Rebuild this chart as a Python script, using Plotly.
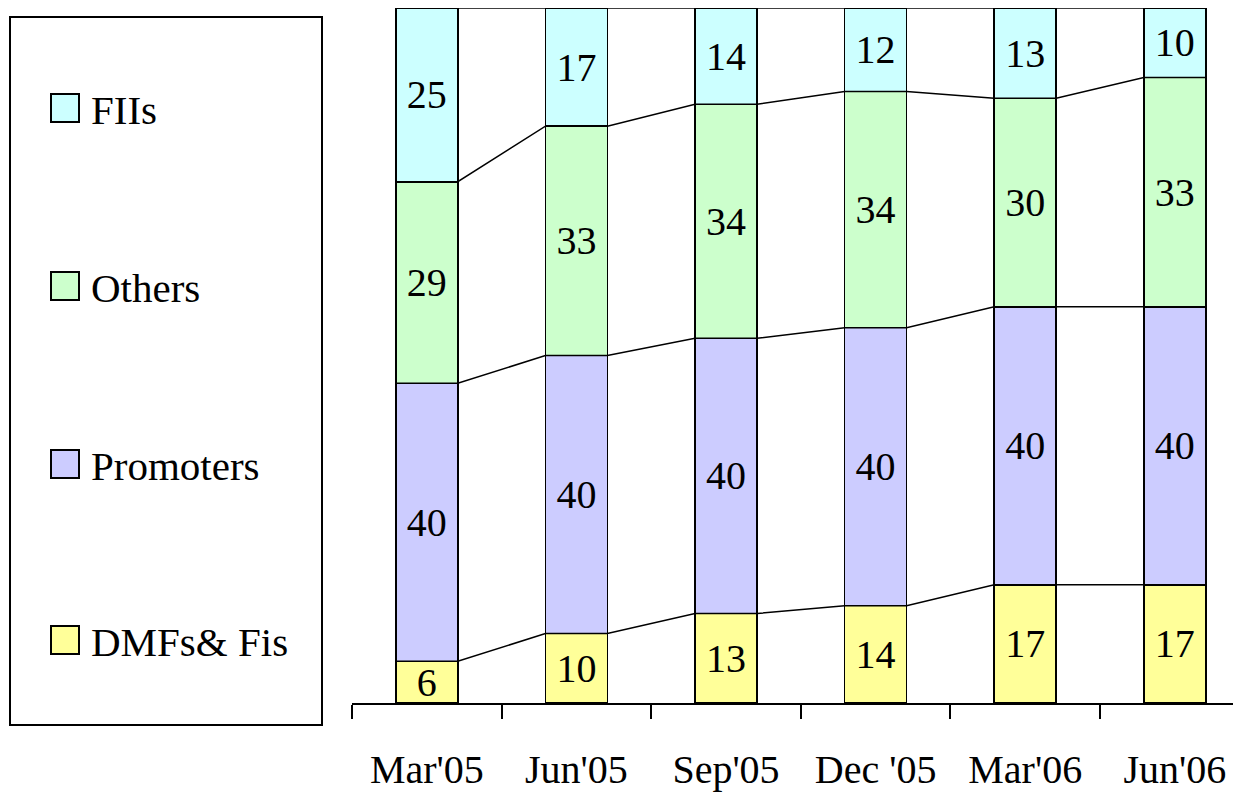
import plotly.graph_objects as go

quarters = ["Mar'05", "Jun'05", "Sep'05", "Dec '05", "Mar'06", "Jun'06"]
series_names = ["DMFs& Fis", "Promoters", "Others", "FIIs"]
dmfs = [6, 10, 13, 14, 17, 17]
promoters = [40, 40, 40, 40, 40, 40]
others = [29, 33, 34, 34, 30, 33]
fiis = [25, 17, 14, 12, 13, 10]

colors = ["#FFFF99", "#CCCCFF", "#CCFFCC", "#CCFFFF"]
FONT = "Liberation Serif, Times New Roman, serif"
OFF = 8  # default body margin of the html page
W, H = 1241 - OFF, 793 - OFF
L, T, B = 352 - OFF, 0, 90
PX_PER_CAT = 149.6
BAR_W = 0.414

values = [dmfs, promoters, others, fiis]
xs = list(range(len(quarters)))

fig = go.Figure()
for name, vals, col in zip(series_names, values, colors):
    fig.add_trace(go.Bar(
        x=xs, y=vals, name=name, width=BAR_W,
        marker=dict(color=col, line=dict(color="black", width=1.5)),
        text=[str(v) for v in vals], textposition="inside",
        insidetextanchor="middle", textangle=0, constraintext="none",
        textfont=dict(family=FONT, size=40, color="black"),
        showlegend=False, hoverinfo="skip",
    ))

# series lines joining the stack boundaries of neighbouring bars
totals = [sum(v[i] for v in values) for i in xs]
cum = [0] * len(xs)
for vals in values:
    cum = [c + v for c, v in zip(cum, vals)]
    pct = [100.0 * c / t for c, t in zip(cum, totals)]
    lx, ly = [], []
    for i in xs:
        lx += [i - BAR_W / 2, i + BAR_W / 2]
        ly += [pct[i], pct[i]]
    fig.add_trace(go.Scatter(
        x=lx, y=ly, mode="lines", xaxis="x2",
        line=dict(color="black", width=1.5),
        showlegend=False, hoverinfo="skip",
    ))

plot_w = W - L
plot_h = H - T - B
x_range = [-0.5, -0.5 + plot_w / PX_PER_CAT]


# page pixel -> paper coords
def px(x):
    return (x - OFF - L) / plot_w


def py(y):
    return (H - B - (y - OFF)) / plot_h


# hand-drawn legend (larger swatches than plotly's legend allows)
shapes = [dict(type="rect", xref="paper", yref="paper",
               x0=px(10), x1=px(322), y0=py(725), y1=py(17),
               line=dict(color="black", width=2), fillcolor="white", layer="below")]
annotations = []
legend_y = [640, 464, 286, 108]
for name, col, ly in zip(series_names, colors, legend_y):
    shapes.append(dict(type="rect", xref="paper", yref="paper",
                       x0=px(51), x1=px(79), y0=py(ly + 14), y1=py(ly - 14),
                       line=dict(color="black", width=2), fillcolor=col))
    annotations.append(dict(xref="paper", yref="paper", x=px(89), y=py(ly + 2),
                            text=name, showarrow=False, xanchor="left", yanchor="middle",
                            font=dict(family=FONT, size=41, color="black")))

fig.update_layout(
    width=W, height=H,
    margin=dict(l=L, r=0, t=T, b=B),
    barmode="stack", barnorm="percent",
    plot_bgcolor="white", paper_bgcolor="white",
    xaxis=dict(range=x_range, tickvals=xs, ticktext=quarters, ticks="",
               showline=False, showgrid=False, zeroline=False,
               tickfont=dict(family=FONT, size=40, color="black"),
               ticklabelstandoff=39),
    xaxis2=dict(range=x_range, overlaying="x", anchor="y", side="bottom",
                tickvals=[i - 0.5 for i in range(len(quarters) + 1)],
                ticks="outside", ticklen=14, tickwidth=1.5, tickcolor="black",
                showticklabels=False, showline=True, linecolor="black", linewidth=1.5,
                showgrid=False, zeroline=False),
    yaxis=dict(range=[0, 100], visible=False),
    shapes=shapes, annotations=annotations,
)

fig.write_html("out.html")
